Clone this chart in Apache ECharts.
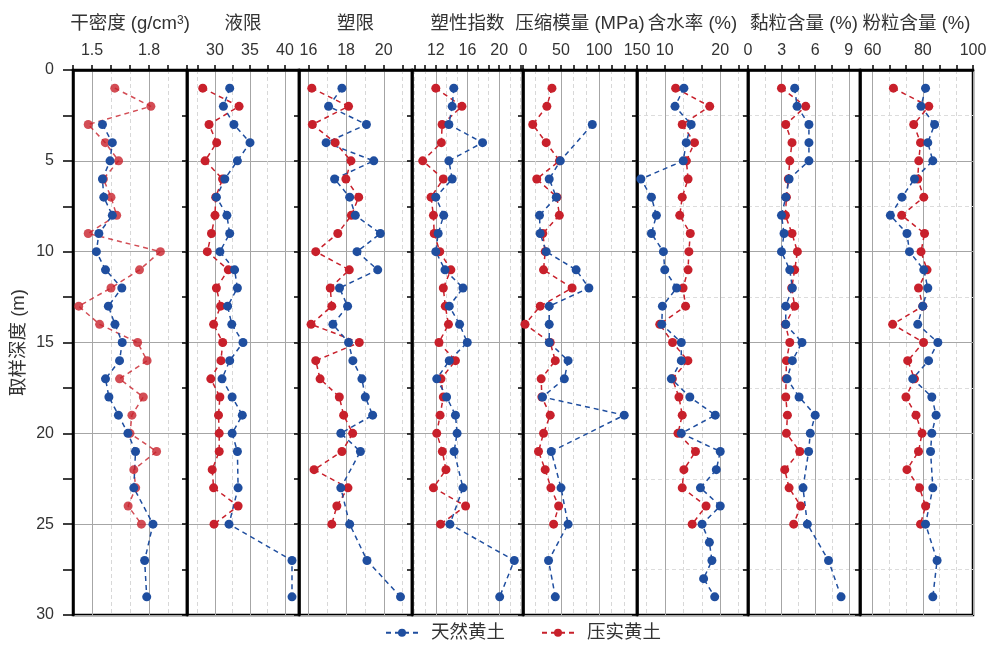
<!DOCTYPE html>
<html><head><meta charset="utf-8">
<script src="https://cdn.jsdelivr.net/npm/echarts@6/dist/echarts.min.js"></script>
<style>html,body{margin:0;padding:0;background:#fff}#c{width:992px;height:649px}</style>
</head><body><div id="c"></div>
<script>
// ---------- data ----------
const depths = [1,2,3,4,5,6,7,8,9,10,11,12,13,14,15,16,17,18,19,20,21,22,23,24,25,26,27,28,29];
const seriesNames = ['天然黄土', '压实黄土'];
const panelTitles = ['干密度 (g/cm{sup|3})', '液限', '塑限', '塑性指数', '压缩模量 (MPa)', '含水率 (%)', '黏粒含量 (%)', '粉粒含量 (%)'];
const yTicks = [0, 5, 10, 15, 20, 25, 30];

const dryNat = [null,null,1.555,1.607,1.595,1.555,1.562,1.607,1.536,1.523,1.571,1.657,1.586,1.621,1.659,1.645,1.571,1.589,1.639,1.689,1.729,null,1.72,null,1.821,null,1.777,null,1.788];
const dryCom = [1.62,1.81,1.48,1.57,1.64,1.56,1.60,1.63,1.48,1.86,1.75,1.60,1.43,1.54,1.74,1.79,1.645,1.77,1.71,1.70,1.84,1.72,1.73,1.69,1.76];

const llNat = [32.1,31.2,32.7,35.0,33.2,31.4,30.2,31.7,32.1,30.7,32.8,33.2,31.8,32.4,34.0,32.1,31.0,32.45,33.9,32.45,33.2,null,33.3,null,32.0,null,41.0,null,41.0];
const llCom = [28.25,33.44,29.15,30.24,28.58,31.08,30.1,30.0,29.5,28.9,31.9,30.2,30.8,29.8,31.1,30.85,29.4,30.7,30.5,30.6,30.6,29.6,29.8,33.3,29.86];

const plNat = [17.78,17.07,19.08,16.94,19.47,17.39,18.19,18.49,19.82,18.58,19.68,17.65,18.08,17.30,18.13,18.36,18.84,19.02,19.41,17.72,18.76,null,17.72,null,18.19,null,19.11,null,20.89];
const plCom = [16.18,18.13,16.21,17.42,18.26,17.99,18.67,18.28,17.56,16.39,18.17,17.16,17.24,16.14,18.70,16.39,16.62,17.64,17.87,18.35,17.78,16.30,18.10,17.51,17.24];

const piNat = [14.27,14.07,13.65,17.9,13.65,14.07,12.0,13.0,12.3,12.0,13.16,15.43,13.7,15.0,15.97,13.7,12.12,13.36,14.48,14.69,14.31,null,15.43,null,13.78,null,21.9,null,20.06];
const piCom = [12.0,15.3,12.8,12.7,10.35,12.95,11.4,11.7,11.8,12.5,13.9,12.95,13.2,13.6,12.4,14.48,12.66,12.95,12.54,12.12,12.83,13.28,11.7,15.76,12.6];

const emNat = [null,null,91.2,null,49.1,34.5,43.8,21.7,22.6,30.5,69.9,86.7,34.5,34.5,34.5,59.3,54.4,25.7,133.2,null,37.2,null,50,null,59.3,null,33.6,null,42.5];
const emCom = [38.1,31.4,12.8,30.5,48,18.1,44.7,47.8,26,29.2,27.0,64.6,22.6,2.7,35.8,42.5,23.9,24.8,35.8,27,20.4,29.2,36.7,46.9,40.3];

const wNat = [13.45,11.85,14.76,13.87,13.33,5.7,7.6,8.5,7.6,9.76,10.0,12.14,9.58,9.46,12.98,12.98,11.19,14.52,19.1,12.98,20.0,19.29,16.43,20.0,16.73,18.04,18.5,17.0,19.0];
const wCom = [11.96,18.1,13.15,15.36,13.9,14.2,13.15,12.7,14.6,14.35,14.2,13.3,13.75,9.1,11.4,14.17,11.37,12.56,13.15,12.38,15.54,13.45,13.15,17.44,14.94];

const clayNat = [4.17,4.38,5.44,5.44,5.44,3.67,3.37,2.99,3.22,2.99,3.73,3.96,3.37,3.37,4.82,3.96,3.49,4.56,6.0,5.56,5.41,null,4.91,null,5.30,null,7.19,null,8.31];
const clayCom = [2.99,5.15,3.37,3.93,3.73,3.6,3.43,3.34,3.93,4.41,4.17,3.9,4.17,3.34,3.73,3.43,3.4,3.37,3.52,3.43,4.62,3.28,3.67,4.70,4.08];

const siltNat = [81.1,79.3,84.7,82,84,76.7,71.7,67.1,73.7,74.7,80.4,82,80,78,86,82.3,76,83.6,85.3,83.6,83.1,null,84,null,81.1,null,85.7,null,84];
const siltCom = [68.3,82.4,76.4,79.1,78.4,78,80.4,71.6,80.7,79.3,81.7,78.3,80,68,80.3,74,76.7,73.3,77.3,79.7,78.3,73.7,78.7,81.1,79.1];

// axis ranges and tick labels per panel
const xMin = [1.4, 26, 15.5, 9, 0, 5, 0, 55];
const xMax = [2.0, 42, 21.5, 23, 150, 25, 10, 100];
const majorTicks = [[1.5,1.8],[30,35,40],[16,18,20],[12,16,20],[0,50,100,150],[10,20],[0,3,6,9],[60,80,100]];
const minorPerMajor = [3, 2, 2, 3, 3, 3, 2, 3];

const natural = [dryNat, llNat, plNat, piNat, emNat, wNat, clayNat, siltNat];
const compacted = [dryCom, llCom, plCom, piCom, emCom, wCom, clayCom, siltCom];

// ---------- layout / style ----------
const lefts = [73, 187, 299, 412, 523, 637, 748, 860, 973];
const TOP = 70, BOTTOM_Y = 615;
const BLUE = '#1f4e9f', RED = '#c8202b';
const FONT = "'Liberation Sans', 'Noto Sans CJK SC', sans-serif";
const TXT = '#333';
const NAME_SIZE = 18.5;

function allTicks(i) {
  const mj = majorTicks[i];
  const step = (mj[1] - mj[0]) / minorPerMajor[i];
  const out = [];
  const eps = 1e-9;
  let v = mj[0];
  while (v - step >= xMin[i] - eps) v -= step;
  for (; v <= xMax[i] + eps; v += step) out.push(+v.toFixed(6));
  return out;
}
function pts(vals) {
  const out = [];
  vals.forEach((v, k) => { if (v != null) out.push([v, depths[k]]); });
  return out;
}

const grids = [], xAxes = [], yAxes = [], series = [];
const firstPanelSeries = [];
for (let i = 0; i < 8; i++) {
  grids.push({
    left: lefts[i], top: TOP, width: lefts[i + 1] - lefts[i], height: BOTTOM_Y - TOP,
    show: true, borderColor: '#000', borderWidth: 2.5, backgroundColor: 'transparent'
  });
  xAxes.push({
    type: 'value', gridIndex: i, position: 'top', min: xMin[i], max: xMax[i],
    name: panelTitles[i], nameLocation: 'middle', nameGap: 37,
    nameTextStyle: { fontSize: NAME_SIZE, color: TXT, fontFamily: FONT,
      rich: { sup: { fontSize: 12, verticalAlign: 'top', color: TXT, fontFamily: FONT } } },
    axisLine: { show: true, lineStyle: { color: '#000', width: 2.5 } },
    axisTick: { show: true, inside: false, length: 5, customValues: allTicks(i), lineStyle: { color: '#000', width: 1.5 } },
    axisLabel: { show: true, customValues: majorTicks[i], fontSize: 16, color: TXT, fontFamily: FONT, margin: 11,
      formatter: v => String(+v.toFixed(2)) },
    splitLine: { show: true, lineStyle: { color: '#d8d8d8', type: [4, 3], width: 1 } }
  });
  xAxes.push({
    type: 'value', gridIndex: i, position: 'top', min: xMin[i], max: xMax[i],
    axisLine: { show: false }, axisLabel: { show: false },
    axisTick: { show: false, customValues: majorTicks[i] },
    splitLine: { show: true, lineStyle: { color: '#a6a6a6', type: 'solid', width: 1 } }
  });
  const tickLen = i === 0 ? 10 : 5;
  yAxes.push({
    type: 'value', gridIndex: i, min: 0, max: 30, interval: 5, inverse: true,
    name: i === 0 ? '取样深度 (m)' : '', nameLocation: 'middle', nameGap: 45, nameRotate: 90,
    nameTextStyle: { fontSize: NAME_SIZE, color: TXT, fontFamily: FONT },
    axisLine: { show: true, lineStyle: { color: '#000', width: 2.5 } },
    axisTick: { show: true, inside: false, length: tickLen, lineStyle: { color: '#000', width: 1.5 } },
    minorTick: { show: true, splitNumber: 2, length: tickLen, lineStyle: { color: '#000', width: 1.5 } },
    axisLabel: { show: i === 0, fontSize: 16, color: TXT, fontFamily: FONT, margin: 19,
      customValues: yTicks },
    splitLine: { show: true, lineStyle: { color: '#a6a6a6', width: 1 } },
    minorSplitLine: { show: i >= 5, lineStyle: { color: '#dcdcdc', type: [4, 3], width: 1 } }
  });
  const common = {
    type: 'line', xAxisIndex: 2 * i, yAxisIndex: i, symbol: 'circle', symbolSize: 9,
    smooth: false, animation: false
  };
  const target = i === 0 ? firstPanelSeries : series;
  target.push(Object.assign({}, common, {
    name: seriesNames[1], data: pts(compacted[i]),
    itemStyle: { color: RED, opacity: i === 0 ? 0.8 : 1 },
    lineStyle: { color: RED, width: 1.5, type: [5, 4], opacity: i === 0 ? 0.8 : 1 }
  }));
  target.push(Object.assign({}, common, {
    name: seriesNames[0], data: pts(natural[i]),
    itemStyle: { color: BLUE },
    lineStyle: { color: BLUE, width: 1.5, type: [5, 4] }
  }));
}
// panel-1 series last so the legend takes its style from a fully opaque series
firstPanelSeries.forEach(s => series.push(s));

const chart = echarts.init(document.getElementById('c'), null, { renderer: 'canvas' });
chart.setOption({
  animation: false,
  backgroundColor: '#fff',
  textStyle: { fontFamily: FONT },
  grid: grids, xAxis: xAxes, yAxis: yAxes, series: series,
  legend: {
    data: seriesNames, left: 380, bottom: 2, itemWidth: 32, itemHeight: 10, itemGap: 36,
    textStyle: { fontSize: NAME_SIZE, color: TXT, fontFamily: FONT, padding: [0, 0, 0, 8] }
  }
});
</script></body></html>
